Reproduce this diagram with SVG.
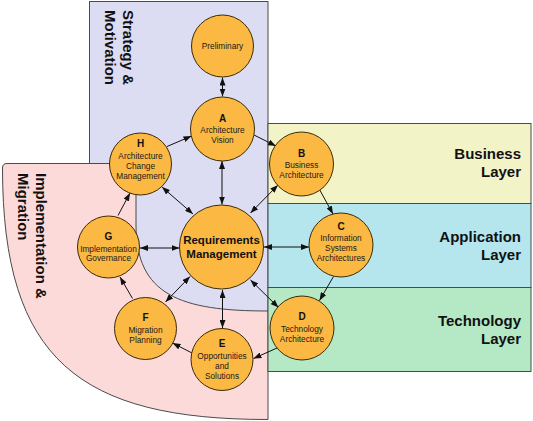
<svg xmlns="http://www.w3.org/2000/svg" width="533" height="421" viewBox="0 0 533 421">
<defs>
<style>
.region{stroke:#4a4a4a;stroke-width:1}
.node{fill:#fbb843;stroke:#3a2c05;stroke-width:1}
.t{font-family:"Liberation Sans",Arial,sans-serif;font-size:8.3px;fill:#1a1a1a;text-anchor:middle}
.l{font-family:"Liberation Sans",Arial,sans-serif;font-size:10px;font-weight:bold;fill:#111;text-anchor:middle}
.big{font-family:"Liberation Sans",Arial,sans-serif;font-size:11.5px;font-weight:bold;fill:#111;text-anchor:middle}
.lab{font-family:"Liberation Sans",Arial,sans-serif;font-size:15px;font-weight:bold;fill:#111}
.lr{text-anchor:end}
.c line{stroke:#111;stroke-width:1}
.c .one{marker-end:url(#ah)}
.c .two{marker-start:url(#ah);marker-end:url(#ah)}
</style>
<marker id="ah" viewBox="0 0 8 6" refX="8" refY="3" markerWidth="8" markerHeight="6" markerUnits="userSpaceOnUse" orient="auto-start-reverse">
<path d="M0,0 L8,3 L0,6 Z" fill="#111"/>
</marker>
</defs>
<g id="strategy-motivation">
<rect class="region" x="89.5" y="1.5" width="178.5" height="310" fill="#dcdcf3"/>
</g>
<g id="implementation-migration">
<path class="region" d="M2.5,168 Q2.5,163.5 7,163.5 L136,163.5 L136,225 C136,295 180,311 268,311 L268,419.5 C80,419.5 2.5,360 2.5,168 Z" fill="#fddada"/>
</g>
<g id="business-layer">
<rect class="region" x="268" y="123.5" width="263" height="80" fill="#f3f3c8"/>
</g>
<g id="application-layer">
<rect class="region" x="268" y="203.5" width="263" height="84" fill="#b5e5ed"/>
</g>
<g id="technology-layer">
<rect class="region" x="268" y="287.5" width="263" height="84" fill="#b5e9c6"/>
</g>
<g id="region-labels">
<text class="lab" transform="translate(123,10) rotate(90)">Strategy &amp;</text>
<text class="lab" transform="translate(123,10) rotate(90)" y="18">Motivation</text>
<text class="lab" transform="translate(36,173) rotate(90)">Implementation &amp;</text>
<text class="lab" transform="translate(36,173) rotate(90)" y="18">Migration</text>
<text class="lab lr" x="521" y="158.5">Business</text>
<text class="lab lr" x="521" y="176.5">Layer</text>
<text class="lab lr" x="521" y="241.5">Application</text>
<text class="lab lr" x="521" y="259.5">Layer</text>
<text class="lab lr" x="521" y="325.5">Technology</text>
<text class="lab lr" x="521" y="343.5">Layer</text>
</g>
<g id="connectors" class="c">
<line class="two" x1="222.5" y1="77.5" x2="222.5" y2="96.5"/>
<line class="two" x1="222" y1="161" x2="222" y2="204.5"/>
<line class="one" x1="167" y1="146.5" x2="191.5" y2="136"/>
<line class="one" x1="254" y1="135" x2="276" y2="146"/>
<line class="one" x1="319.5" y1="189.5" x2="333" y2="214"/>
<line class="one" x1="333.5" y1="276.5" x2="319.5" y2="300.5"/>
<line class="one" x1="277" y1="348" x2="253.5" y2="358.5"/>
<line class="one" x1="192" y1="353" x2="172.5" y2="343"/>
<line class="one" x1="132.5" y1="298.5" x2="120" y2="277"/>
<line class="one" x1="118" y1="215.5" x2="130" y2="193"/>
<line class="two" x1="162" y1="187" x2="193" y2="214"/>
<line class="two" x1="278" y1="185" x2="250.5" y2="213"/>
<line class="two" x1="140" y1="248" x2="179.5" y2="248"/>
<line class="two" x1="264" y1="247" x2="309" y2="247"/>
<line class="two" x1="165.5" y1="302" x2="190" y2="276.5"/>
<line class="two" x1="222.5" y1="290" x2="222.5" y2="328"/>
<line class="two" x1="250.5" y1="280" x2="278.5" y2="307.5"/>
</g>
<g id="node-preliminary">
<circle class="node" cx="222.5" cy="46" r="31"/>
<text class="t" x="222.5" y="49">Preliminary</text>
</g>
<g id="node-a">
<circle class="node" cx="222.5" cy="129" r="32"/>
<text class="l" x="222.5" y="121.5">A</text>
<text class="t" x="222.5" y="133">Architecture</text>
<text class="t" x="222.5" y="143">Vision</text>
</g>
<g id="node-h">
<circle class="node" cx="140.5" cy="164" r="31"/>
<text class="l" x="140.5" y="147">H</text>
<text class="t" x="140.5" y="158.5">Architecture</text>
<text class="t" x="140.5" y="168.5">Change</text>
<text class="t" x="140.5" y="178.5">Management</text>
</g>
<g id="node-b">
<circle class="node" cx="301.5" cy="164" r="32"/>
<text class="l" x="301.5" y="156.5">B</text>
<text class="t" x="301.5" y="168">Business</text>
<text class="t" x="301.5" y="178">Architecture</text>
</g>
<g id="node-c">
<circle class="node" cx="341" cy="245" r="32"/>
<text class="l" x="341" y="229.5">C</text>
<text class="t" x="341" y="240.5">Information</text>
<text class="t" x="341" y="251">Systems</text>
<text class="t" x="341" y="261">Architectures</text>
</g>
<g id="node-requirements">
<circle class="node" cx="221.5" cy="247" r="42"/>
<text class="big" x="221.5" y="244.2">Requirements</text>
<text class="big" x="221.5" y="257.7">Management</text>
</g>
<g id="node-g">
<circle class="node" cx="108.5" cy="247" r="31"/>
<text class="l" x="108.5" y="239.5">G</text>
<text class="t" x="108.5" y="251.5">Implementation</text>
<text class="t" x="108.5" y="261">Governance</text>
</g>
<g id="node-f">
<circle class="node" cx="145.5" cy="328.5" r="31"/>
<text class="l" x="145.5" y="320.5">F</text>
<text class="t" x="145.5" y="333">Migration</text>
<text class="t" x="145.5" y="343">Planning</text>
</g>
<g id="node-e">
<circle class="node" cx="222" cy="359.5" r="31"/>
<text class="l" x="222" y="347">E</text>
<text class="t" x="222" y="359">Opportunities</text>
<text class="t" x="222" y="369">and</text>
<text class="t" x="222" y="379">Solutions</text>
</g>
<g id="node-d">
<circle class="node" cx="302" cy="328" r="32"/>
<text class="l" x="302" y="320">D</text>
<text class="t" x="302" y="332">Technology</text>
<text class="t" x="302" y="342">Architecture</text>
</g>
</svg>
